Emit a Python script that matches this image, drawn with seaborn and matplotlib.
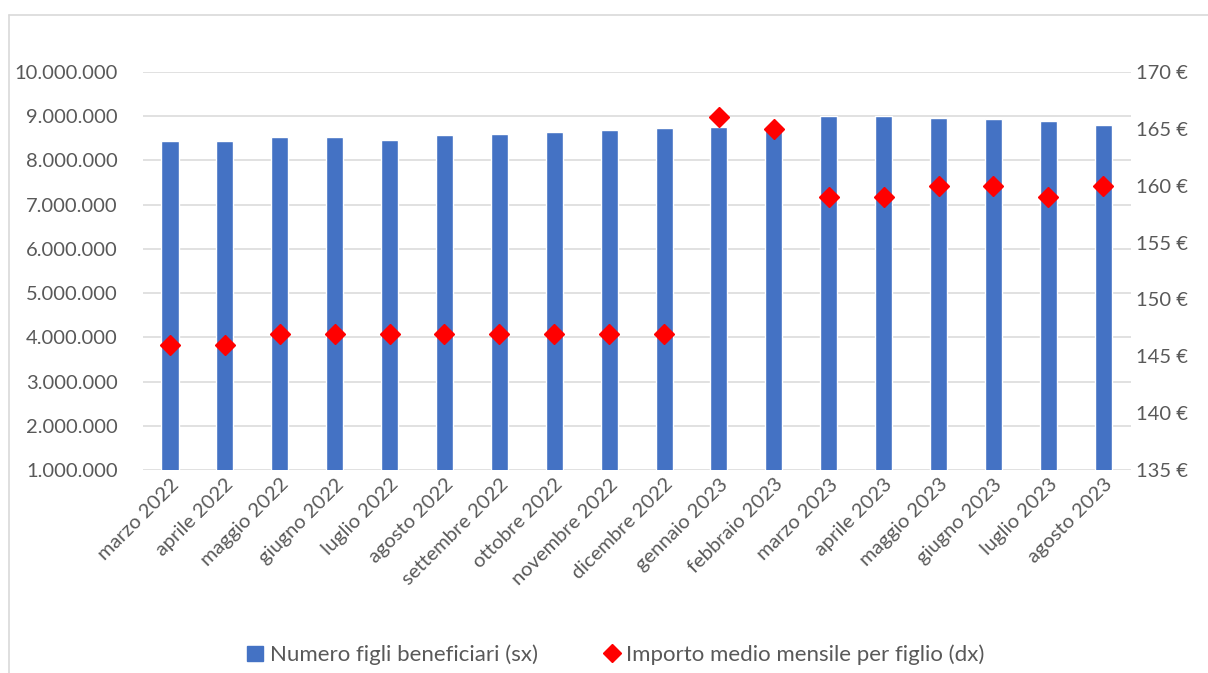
import matplotlib
matplotlib.use("Agg")
import matplotlib.pyplot as plt
import matplotlib.lines as mlines
import matplotlib.patches as mpatches
import matplotlib.ticker as mticker
import seaborn as sns
import pandas as pd

mesi = ["marzo 2022", "aprile 2022", "maggio 2022", "giugno 2022", "luglio 2022",
        "agosto 2022", "settembre 2022", "ottobre 2022", "novembre 2022",
        "dicembre 2022", "gennaio 2023", "febbraio 2023", "marzo 2023",
        "aprile 2023", "maggio 2023", "giugno 2023", "luglio 2023", "agosto 2023"]
figli = [8440000, 8445000, 8530000, 8535000, 8470000, 8570000, 8600000, 8640000,
         8690000, 8730000, 8760000, 8780000, 9010000, 8995000, 8960000, 8930000,
         8890000, 8810000]
importo = [146, 146, 147, 147, 147, 147, 147, 147, 147, 147, 166, 165,
           159, 159, 160, 160, 159, 160]

df = pd.DataFrame({"mese": mesi, "figli": figli, "importo": importo})

sns.set_style("white")
plt.rcParams["font.family"] = ["Lato", "DejaVu Sans"]

grigio = "#595959"
blu = "#4472C4"

fig = plt.figure(figsize=(12.08, 6.73), dpi=100)
ax = fig.add_axes([0.118, 0.3016, 0.818, 0.5915])

sns.barplot(data=df, x="mese", y="figli", color=blu, width=0.31,
            saturation=1, ax=ax, zorder=2)
ax.set_ylim(1000000, 10000000)
ax.yaxis.set_major_locator(mticker.MultipleLocator(1000000))
ax.yaxis.set_major_formatter(
    mticker.FuncFormatter(lambda v, p: f"{int(v):,}".replace(",", ".")))
ax.grid(axis="y", color="#D9D9D9", linewidth=1.1, zorder=0)
ax.set_axisbelow(True)
ax.set_xlabel("")
ax.set_ylabel("")
ax.set_xlim(-0.5, len(mesi) - 0.5)
for s in ax.spines.values():
    s.set_visible(False)
ax.tick_params(axis="both", length=0, colors=grigio, labelsize=14.5)
ax.tick_params(axis="y", pad=18)
ax.tick_params(axis="x", pad=4)
plt.setp(ax.get_xticklabels(), rotation=45, ha="right", rotation_mode="anchor")

ax2 = ax.twinx()
ax2.plot(range(len(mesi)), df["importo"], linestyle="none", marker="D",
         markersize=10.5, color="#FF0000", zorder=3)
ax2.set_ylim(135, 170)
ax2.yaxis.set_major_locator(mticker.MultipleLocator(5))
ax2.yaxis.set_major_formatter(mticker.FuncFormatter(lambda v, p: f"{int(v)} €"))
for s in ax2.spines.values():
    s.set_visible(False)
ax2.tick_params(axis="y", length=0, colors=grigio, labelsize=14.5, pad=4)
ax2.grid(False)

h1 = mpatches.Patch(color=blu, label="Numero figli beneficiari (sx)")
h2 = mlines.Line2D([], [], color="#FF0000", marker="D", linestyle="none",
                   markersize=9, label="Importo medio mensile per figlio (dx)")
fig.legend(handles=[h1, h2], loc="center", bbox_to_anchor=(0.51, 0.027),
           ncol=2, frameon=False, fontsize=16, labelcolor=grigio,
           handlelength=0.7, handletextpad=0.3, columnspacing=3.0)

# bordo dell'area del grafico
fig.add_artist(mlines.Line2D([9 / 1208, 1], [1 - 15 / 673, 1 - 15 / 673],
                             transform=fig.transFigure, color="#D9D9D9", lw=1.2))
fig.add_artist(mlines.Line2D([9 / 1208, 9 / 1208], [0, 1 - 15 / 673],
                             transform=fig.transFigure, color="#D9D9D9", lw=1.2))

fig.savefig("out.png", dpi=100)
